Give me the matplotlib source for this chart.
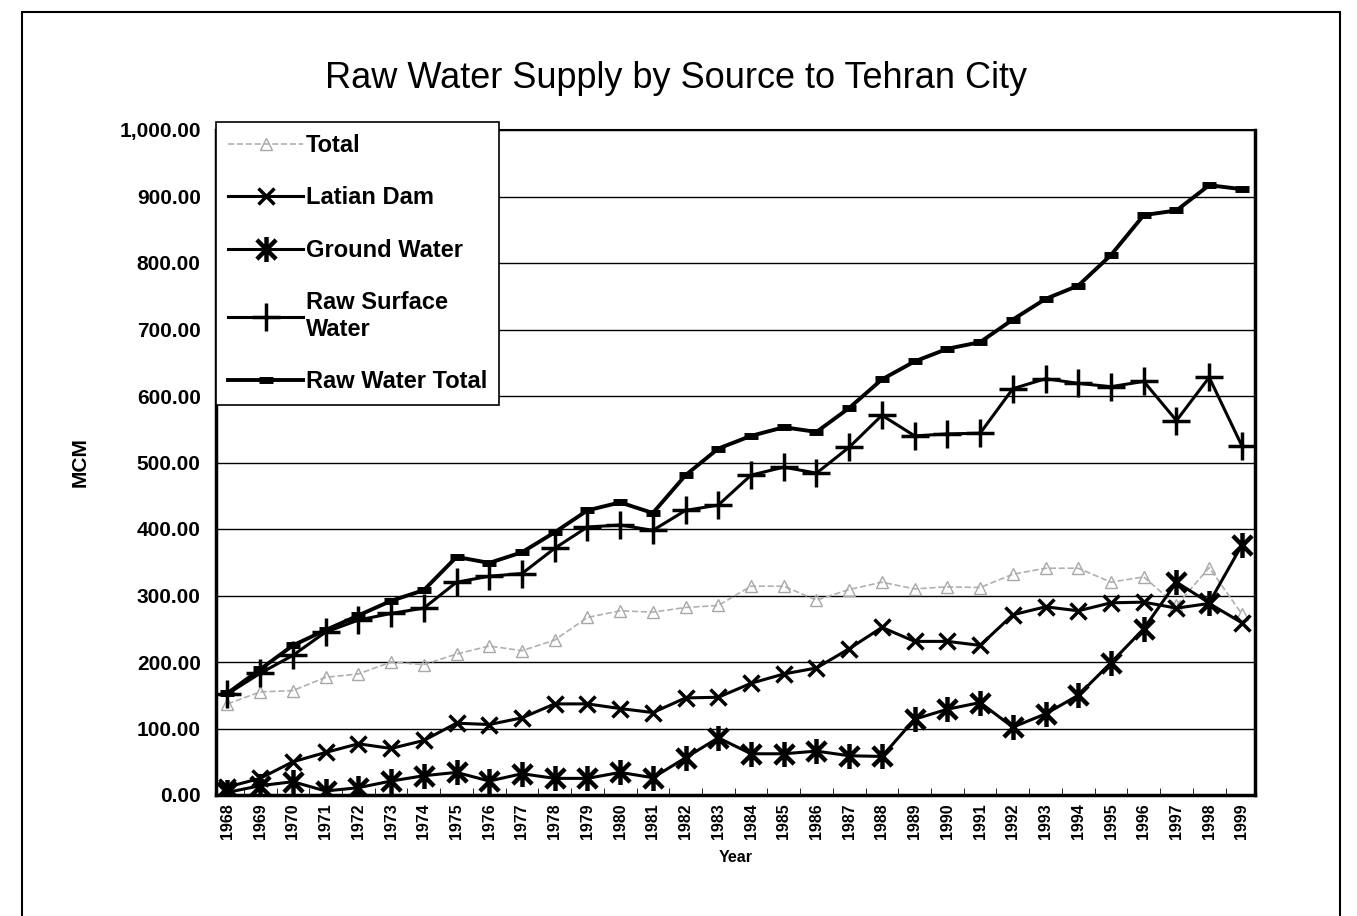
import matplotlib
matplotlib.use("Agg")
import matplotlib.pyplot as plt
import numpy as np
from matplotlib.path import Path
from matplotlib.patches import Rectangle

plt.rcParams['font.family'] = ['Liberation Sans', 'DejaVu Sans']

years = list(range(1968, 2000))
total = [137, 155, 157, 177, 182, 200, 196, 212, 224, 217, 233, 267, 277, 275, 282, 285,
         314, 314, 293, 309, 320, 310, 313, 312, 332, 341, 341, 320, 328, 285, 342, 272]
latian = [12, 25, 50, 64, 77, 70, 82, 108, 106, 116, 137, 137, 130, 124, 146, 147,
          168, 182, 191, 220, 252, 231, 231, 225, 271, 283, 277, 289, 290, 281, 288, 259]
ground = [4, 14, 20, 6, 11, 21, 29, 34, 21, 32, 25, 25, 34, 26, 56, 86,
          62, 62, 66, 59, 58, 114, 129, 139, 102, 122, 150, 199, 250, 320, 289, 376]
surface = [152, 183, 210, 245, 263, 273, 281, 320, 329, 333, 371, 403, 406, 398, 428, 436,
           481, 493, 484, 523, 571, 540, 543, 544, 611, 626, 619, 614, 622, 563, 628, 525]
raw_total = [153, 189, 225, 248, 270, 292, 308, 358, 349, 365, 395, 428, 440, 424, 481, 521,
             540, 553, 546, 582, 625, 652, 671, 681, 715, 746, 766, 812, 872, 879, 917, 911]

# excel style star marker: x with a vertical bar
star = Path([(-1, -1), (1, 1), (-1, 1), (1, -1), (0, -1.3), (0, 1.3)],
            [Path.MOVETO, Path.LINETO, Path.MOVETO, Path.LINETO, Path.MOVETO, Path.LINETO])

fig = plt.figure(figsize=(13.57, 9.16), dpi=100)
ax = fig.add_axes([216/1357, 1 - 795/916, (1255-216)/1357, (795-130)/916])

x = np.arange(len(years))

ax.plot(x, total, color='#b0b0b0', lw=1.2, ls='--', marker='^', ms=8,
        mfc='none', mec='#a8a8a8', mew=1, label='Total', zorder=3)
ax.plot(x, latian, color='black', lw=2.2, marker='x', ms=11, mew=2.5,
        label='Latian Dam', zorder=4)
ax.plot(x, ground, color='black', lw=2.2, marker=star, ms=18, mew=3.2,
        label='Ground Water', zorder=4)
ax.plot(x, surface, color='black', lw=2.2, marker='+', ms=20, mew=2.5,
        label='Raw Surface\nWater', zorder=4)
ax.plot(x, raw_total, color='black', lw=2.8, marker='_', ms=10, mew=5,
        label='Raw Water Total', zorder=5)

ax.set_ylim(0, 1000)
ax.set_xlim(-0.35, len(years) - 0.6)
ax.set_yticks(np.arange(0, 1001, 100))
ax.set_yticklabels(['{:,.2f}'.format(v) for v in np.arange(0, 1001, 100)],
                   fontsize=15, fontweight='bold')
ax.set_xticks(x)
ax.set_xticklabels([str(y) for y in years], rotation=90, fontsize=11.5, fontweight='bold')
ax.set_xticks(x[:-1] + 0.5, minor=True)
ax.tick_params(axis='x', which='major', length=0, pad=6)
ax.tick_params(axis='x', which='minor', length=5, direction='in')
ax.tick_params(axis='y', length=0, pad=11)
ax.grid(axis='y', color='black', lw=1)
ax.set_axisbelow(True)
for s in ax.spines.values():
    s.set_linewidth(2.5)
ax.spines['top'].set_linewidth(1.5)

ax.set_xlabel('Year', fontsize=11.5, fontweight='bold', labelpad=8)
fig.text(80/1357, 1 - 462/916, 'MCM', rotation=90, ha='center', va='center',
         fontsize=15, fontweight='bold')
fig.text(676/1357, 1 - 78/916, 'Raw Water Supply by Source to Tehran City',
         ha='center', va='center', fontsize=26)

leg = ax.legend(loc='upper left', bbox_to_anchor=(0.0, 1.012), borderaxespad=0,
                handlelength=3.2, labelspacing=1.25, handletextpad=0.1,
                borderpad=0.5, fancybox=False, framealpha=1, edgecolor='black',
                prop={'weight': 'bold', 'size': 17})
leg.get_frame().set_linewidth(1.2)
leg.set_zorder(10)

fig.patches.append(Rectangle((22/1357, -0.05), (1340-22)/1357, 1.05 - 12/916,
                             transform=fig.transFigure, fill=False, ec='black', lw=1.5))

plt.savefig('out.png', dpi=100)
